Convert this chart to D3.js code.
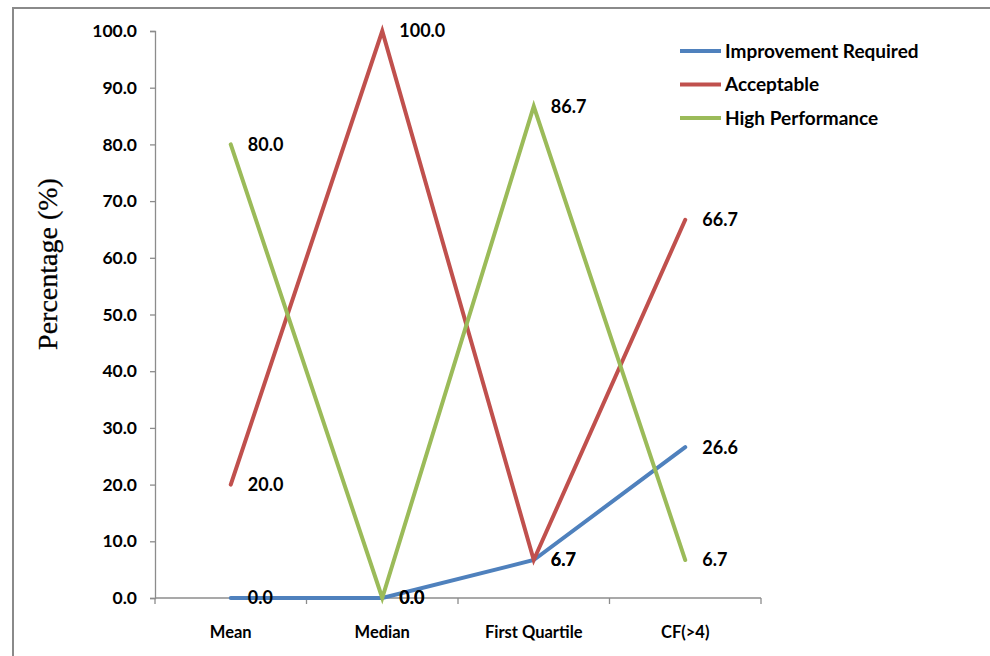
<!DOCTYPE html>
<html>
<head>
<meta charset="utf-8">
<script src="https://cdn.jsdelivr.net/npm/d3@7/dist/d3.min.js"></script>
<style>
  html, body { margin: 0; padding: 0; background: #fff; }
  svg { display: block; }
  .lbl { font-family: Lato, "Open Sans", "Liberation Sans", sans-serif; font-weight: 700; fill: #000; }
</style>
</head>
<body>
<svg id="chart" width="990" height="656"></svg>
<script>
// Categories along the x axis
const categories = ["Mean", "Median", "First Quartile", "CF(>4)"];

// Series values (percent)
const seriesNames = ["Improvement Required", "Acceptable", "High Performance"];
const improvementRequired = [0.0, 0.0, 6.7, 26.6];
const acceptable = [20.0, 100.0, 6.7, 66.7];
const highPerformance = [80.0, 0.0, 86.7, 6.7];
const seriesColors = ["#4F81BD", "#C0504D", "#9BBB59"];

// Y axis ticks
const yTicks = [0, 10, 20, 30, 40, 50, 60, 70, 80, 90, 100];

const series = [
  { name: seriesNames[0], values: improvementRequired, color: seriesColors[0] },
  { name: seriesNames[1], values: acceptable, color: seriesColors[1] },
  { name: seriesNames[2], values: highPerformance, color: seriesColors[2] }
];

const svg = d3.select("#chart");

// Chart frame (left and top edges)
svg.append("path")
  .attr("d", "M13,656 L13,8 L990,8")
  .attr("fill", "none")
  .attr("stroke", "#8a8a8a")
  .attr("stroke-width", 2);

const plot = { left: 155, right: 761, top: 31, bottom: 598 };

const x = d3.scaleBand().domain(categories).range([plot.left, plot.right]).padding(0);
const y = d3.scaleLinear().domain([0, 100]).range([plot.bottom, plot.top]);
const cx = c => x(c) + x.bandwidth() / 2;

// Y axis
const yAxis = svg.append("g")
  .attr("transform", `translate(${plot.left},0)`)
  .call(d3.axisLeft(y).tickValues(yTicks).tickSize(5).tickSizeOuter(5).tickPadding(13).tickFormat(d3.format(".1f")));
yAxis.selectAll("path, line").attr("stroke", "#8c8c8c").attr("stroke-width", 1.3);
yAxis.selectAll("text").attr("class", "lbl").style("font-size", "17.5px");

// X axis with ticks at band boundaries
const xAxis = svg.append("g").attr("transform", `translate(0,${plot.bottom})`);
xAxis.append("line")
  .attr("x1", plot.left).attr("x2", plot.right)
  .attr("stroke", "#8c8c8c").attr("stroke-width", 1.3);
const bounds = categories.map(c => x(c)).concat([plot.right]);
xAxis.selectAll("line.tick").data(bounds).enter().append("line")
  .attr("class", "tick")
  .attr("x1", d => d).attr("x2", d => d)
  .attr("y1", 0).attr("y2", 6)
  .attr("stroke", "#8c8c8c").attr("stroke-width", 1.3);
xAxis.selectAll("text").data(categories).enter().append("text")
  .attr("class", "lbl")
  .attr("x", d => cx(d))
  .attr("y", 40)
  .attr("text-anchor", "middle")
  .style("font-size", "16.5px")
  .text(d => d);

// Y axis title
svg.append("text")
  .attr("transform", "translate(57,264) rotate(-90)")
  .attr("text-anchor", "middle")
  .style("font-family", "'Liberation Serif', 'Times New Roman', serif")
  .style("font-size", "28px")
  .attr("fill", "#000")
  .attr("stroke", "#000")
  .attr("stroke-width", 0.3)
  .text("Percentage (%)");

// Lines
const line = d3.line()
  .x((d, i) => cx(categories[i]))
  .y(d => y(d));

series.forEach(s => {
  svg.append("path")
    .datum(s.values)
    .attr("d", line)
    .attr("fill", "none")
    .attr("stroke", s.color)
    .attr("stroke-width", 4)
    .attr("stroke-linejoin", "miter")
    .attr("stroke-linecap", "round");
});

// Value labels to the right of each point
series.forEach(s => {
  svg.append("g").selectAll("text").data(s.values).enter().append("text")
    .attr("class", "lbl")
    .attr("x", (d, i) => cx(categories[i]) + 17)
    .attr("y", d => y(d))
    .attr("dy", "0.36em")
    .style("font-size", "18px")
    .text(d => d3.format(".1f")(d));
});

// Legend
const legend = svg.append("g").attr("transform", "translate(680,51)");
series.forEach((s, i) => {
  const g = legend.append("g").attr("transform", `translate(0,${i * 33.5})`);
  g.append("line")
    .attr("x1", 0).attr("x2", 41)
    .attr("stroke", s.color).attr("stroke-width", 4);
  g.append("text")
    .attr("class", "lbl")
    .attr("x", 45)
    .attr("dy", "0.36em")
    .style("font-size", "19px")
    .text(s.name);
});
</script>
</body>
</html>
